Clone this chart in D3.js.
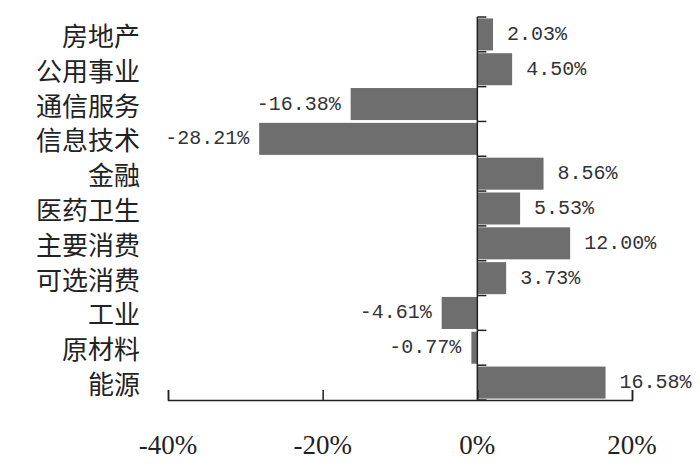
<!DOCTYPE html>
<html><head><meta charset="utf-8">
<script src="https://cdn.jsdelivr.net/npm/d3@7"></script>
<style>body{margin:0;background:#fff}</style>
</head><body>
<svg id="c" width="700" height="476"></svg>
<script>
const categories = ["房地产","公用事业","通信服务","信息技术","金融","医药卫生","主要消费","可选消费","工业","原材料","能源"];
const values = [2.03, 4.50, -16.38, -28.21, 8.56, 5.53, 12.00, 3.73, -4.61, -0.77, 16.58];
const tickValues = [-40, -20, 0, 20];

const svg = d3.select("#c");
const x = d3.scaleLinear().domain([-40, 20]).range([168, 632]);
const y = d3.scaleBand().domain(categories).range([17, 400]).paddingInner(0.08).paddingOuter(0.04);
const step = y.step();

// bars
svg.append("g").selectAll("rect").data(values).join("rect")
  .attr("x", d => x(Math.min(0, d)))
  .attr("y", (d, i) => y(categories[i]))
  .attr("width", d => Math.abs(x(d) - x(0)))
  .attr("height", y.bandwidth())
  .attr("fill", "#6e6e6e");

// x axis
const xAxis = d3.axisTop(x).tickValues(tickValues).tickSize(10).tickFormat("");
const gx = svg.append("g").attr("transform", "translate(0,400)").call(xAxis);
gx.select(".domain").attr("stroke", "#222").attr("stroke-width", 1.5);
gx.selectAll(".tick line").attr("stroke", "#222").attr("stroke-width", 1.5);
svg.append("g").selectAll("text").data(tickValues).join("text")
  .attr("x", d => x(d)).attr("y", 445)
  .attr("text-anchor", "middle").attr("dominant-baseline", "central")
  .attr("font-family", "Liberation Serif").attr("font-size", 27).attr("fill", "#222")
  .text(d => d + "%");

// vertical axis at zero
const bounds = d3.range(categories.length + 1).map(i => 17 + i * step);
const gy = svg.append("g");
gy.append("line").attr("x1", x(0)).attr("x2", x(0)).attr("y1", 17).attr("y2", 400)
  .attr("stroke", "#222").attr("stroke-width", 1.5);
gy.selectAll("line.t").data(bounds).join("line").attr("class", "t")
  .attr("x1", x(0)).attr("x2", x(0) + 9).attr("y1", d => d).attr("y2", d => d)
  .attr("stroke", "#222").attr("stroke-width", 1.5);

// category labels
svg.append("g").selectAll("text").data(categories).join("text")
  .attr("x", 140).attr("y", d => y(d) + y.bandwidth() / 2)
  .attr("text-anchor", "end").attr("dominant-baseline", "central")
  .attr("font-family", "Noto Sans CJK SC").attr("font-size", 26).attr("fill", "#222")
  .text(d => d);

// data labels
svg.append("g").selectAll("text").data(values).join("text")
  .attr("x", d => d >= 0 ? x(d) + 14 : x(d) - 10)
  .attr("y", (d, i) => y(categories[i]) + y.bandwidth() / 2)
  .attr("text-anchor", d => d >= 0 ? "start" : "end").attr("dominant-baseline", "central")
  .attr("font-family", "Liberation Mono").attr("font-size", 20).attr("fill", "#333")
  .text(d => d.toFixed(2) + "%");
</script>
</body></html>
